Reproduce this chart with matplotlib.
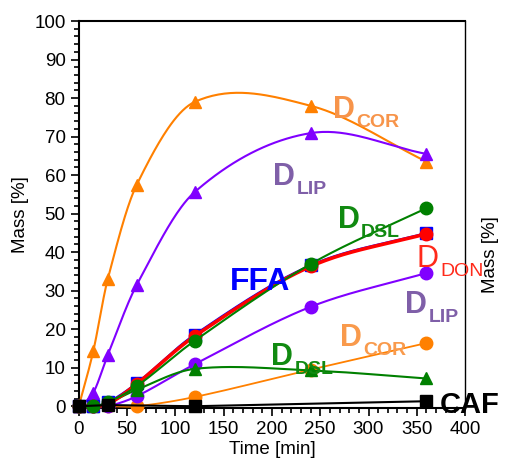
import numpy as np
import matplotlib
matplotlib.use('Agg')
import matplotlib.pyplot as plt
from matplotlib.ticker import MultipleLocator

plt.rcParams['font.family'] = ['Liberation Sans', 'DejaVu Sans']

t = [0, 15, 30, 60, 120, 240, 360]

cor_tri = [0, 14.3, 33, 57.5, 79, 78, 63.5]
lip_tri = [0, 3.5, 13.3, 31.5, 55.6, 70.9, 65.5]
dsl_tri = [0, 0, 0.8, 4.3, 9.7, 9.3, 7.2]
dsl_circ = [0, 0, 1.0, 5.2, 17.0, 36.9, 51.4]
don_circ = [0, 0, 0.5, 5.8, 18.2, 36.3, 44.8]
ffa_sq = [0, 0, 1.0, 6.0, 18.6, 36.6, 45.0]
lip_circ = [0, 0, 0, 2.6, 10.9, 25.8, 34.6]
cor_circ = [0, 0, 0, 0, 2.4, 9.5, 16.4]
t_caf = [0, 30, 120, 360]
caf_sq = [0, 0.3, 0, 1.3]


def smooth(x, y, n=40):
    # cubic hermite through the points, slopes from neighbouring points
    x = np.asarray(x, float)
    y = np.asarray(y, float)
    m = np.empty_like(y)
    m[1:-1] = (y[2:] - y[:-2]) / (x[2:] - x[:-2])
    m[0] = (y[1] - y[0]) / (x[1] - x[0])
    m[-1] = (y[-1] - y[-2]) / (x[-1] - x[-2])
    xs_all, ys_all = [], []
    for i in range(len(x) - 1):
        h = x[i + 1] - x[i]
        s = np.linspace(0, 1, n)
        h00 = 2 * s**3 - 3 * s**2 + 1
        h10 = s**3 - 2 * s**2 + s
        h01 = -2 * s**3 + 3 * s**2
        h11 = s**3 - s**2
        xs_all.append(x[i] + s * h)
        ys_all.append(h00 * y[i] + h10 * h * m[i] + h01 * y[i + 1] + h11 * h * m[i + 1])
    return np.concatenate(xs_all), np.concatenate(ys_all)


fig = plt.figure(figsize=(5.05, 4.67), dpi=100)
ax = fig.add_axes([0.156, 0.126, 0.765, 0.829])

series = [
    (cor_circ, '#ff8000', 'o', 1.3, 3),
    (lip_circ, '#8000ff', 'o', 1.5, 3),
    (dsl_tri, '#008000', '^', 1.5, 3),
    (cor_tri, '#ff8000', '^', 1.5, 3),
    (lip_tri, '#8000ff', '^', 1.5, 3),
    (ffa_sq, '#0000ff', 's', 1.5, 4),
    (don_circ, '#ff0000', 'o', 2.6, 5),
    (dsl_circ, '#008000', 'o', 1.5, 6),
]
for ys, col, mk, lw, z in series:
    sx, sy = smooth(t, ys)
    ax.plot(sx, sy, color=col, lw=lw, zorder=z, clip_on=False)
    ax.plot(t, ys, ls='none', marker=mk, color=col, ms=9 if mk != 's' else 8.5,
            zorder=z, clip_on=False)

ax.plot(t_caf, caf_sq, color='black', lw=1.5, marker='s', ms=8, zorder=7, clip_on=False)

ax.set_xlim(0, 400)
ax.set_ylim(-0.5, 100)
ax.xaxis.set_major_locator(MultipleLocator(50))
ax.xaxis.set_minor_locator(MultipleLocator(10))
ax.yaxis.set_major_locator(MultipleLocator(10))
ax.yaxis.set_minor_locator(MultipleLocator(2))
ax.tick_params(which='both', direction='out', labelsize=13.5, width=1.2,
               top=False, right=False)
ax.tick_params(which='major', length=6)
ax.tick_params(which='minor', length=3.5)
for s in ax.spines.values():
    s.set_linewidth(1.5)
ax.spines['right'].set_linewidth(1.0)

ax.set_xlabel('Time [min]', fontsize=13.5, labelpad=2)
ax.set_ylabel('Mass [%]', fontsize=13.5, labelpad=4)
fig.text(0.972, 0.455, 'Mass [%]', rotation=90, fontsize=13.5, ha='center', va='center')


def dlabel(x, y, sub, col, weight='bold'):
    ax.text(x, y, 'D', color=col, fontsize=22, fontweight=weight,
            ha='left', va='baseline', zorder=10)
    ax.annotate(sub, xy=(x, y), xytext=(17, -6.5),
                textcoords='offset points', color=col, fontsize=14,
                fontweight=weight, ha='left', va='baseline', zorder=10)


dlabel(263, 74.8, 'COR', '#f7944a')
dlabel(201, 57.4, 'LIP', '#7f5fa8')
dlabel(268, 46.2, 'DSL', '#118a11')
dlabel(350, 36.1, 'DON', '#ff2a1a', weight='normal')
ax.text(156, 30.1, 'FFA', color='#0000ff', fontsize=23, fontweight='bold', zorder=10)
dlabel(338, 24.2, 'LIP', '#7f5fa8')
dlabel(270, 15.6, 'COR', '#f99a4c')
dlabel(199, 10.6, 'DSL', '#118a11')
ax.text(374, -1.8, 'CAF', color='black', fontsize=21, fontweight='bold', zorder=10,
        clip_on=False)

fig.savefig('out.png', dpi=100)
